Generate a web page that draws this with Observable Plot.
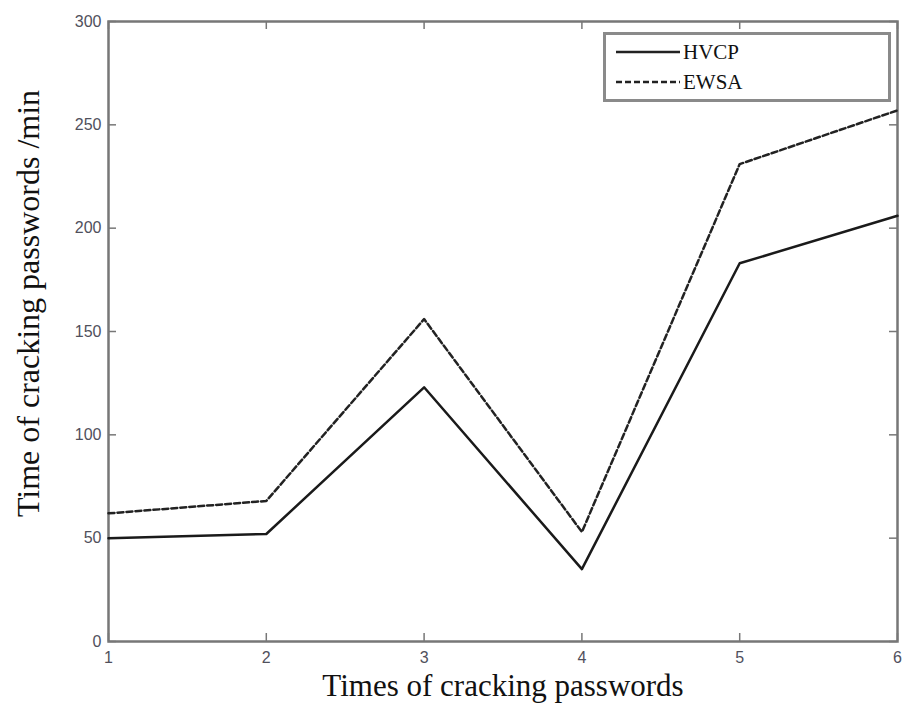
<!DOCTYPE html>
<html>
<head>
<meta charset="utf-8">
<script src="https://cdn.jsdelivr.net/npm/d3@7"></script>
<script src="https://cdn.jsdelivr.net/npm/@observablehq/plot@0.6"></script>
<style>
  html, body { margin: 0; padding: 0; background: #fff; }
  #wrap { position: relative; width: 906px; height: 716px; }
  #legend {
    position: absolute; left: 603px; top: 32px; width: 282px; height: 64px;
    border: 3px solid #8a8a8a; background: #fff;
    font-family: "Liberation Serif", "Times New Roman", serif; font-size: 21px; color: #111;
  }
  .row { position: absolute; left: 10px; height: 24px; display: flex; align-items: center; }
  .row svg { margin-right: 3px; }
</style>
</head>
<body>
<div id="wrap"></div>
<script>
const xTicks = [1, 2, 3, 4, 5, 6];
const yTicks = [0, 50, 100, 150, 200, 250, 300];
const hvcp = [50, 52, 123, 35, 183, 206];
const ewsa = [62, 68, 156, 53, 231, 257];
const seriesNames = ["HVCP", "EWSA"];
const xLabel = "Times of cracking passwords";
const yLabel = "Time of cracking passwords /min";

const data = [];
xTicks.forEach((x, i) => {
  data.push({x, y: hvcp[i], s: "HVCP"});
  data.push({x, y: ewsa[i], s: "EWSA"});
});

const W = 906, H = 716, ML = 108, MR = 9, MT = 21, MB = 75;
const innerW = W - ML - MR, innerH = H - MT - MB;
const tl = 8;
const tickFont = {fontSize: 16, fontFamily: "Liberation Sans, Arial, sans-serif", fill: "#50505c"};

const chart = Plot.plot({
  width: W, height: H,
  marginLeft: ML, marginRight: MR, marginTop: MT, marginBottom: MB,
  x: {domain: [1, 6]},
  y: {domain: [0, 300]},
  marks: [
    Plot.axisX(xTicks, {tickSize: 0, tickPadding: 10, tickFormat: "d", ...tickFont, label: null}),
    Plot.axisY(yTicks, {tickSize: 0, tickPadding: 7, tickFormat: "d", ...tickFont, label: null}),
    Plot.tickX(xTicks, {x: d => d, insetTop: innerH - tl, stroke: "#777", strokeWidth: 1.5}),
    Plot.tickX(xTicks, {x: d => d, insetBottom: innerH - tl, stroke: "#777", strokeWidth: 1.5}),
    Plot.tickY(yTicks, {y: d => d, insetRight: innerW - tl, stroke: "#777", strokeWidth: 1.5}),
    Plot.tickY(yTicks, {y: d => d, insetLeft: innerW - tl, stroke: "#777", strokeWidth: 1.5}),
    Plot.frame({stroke: "#777", strokeWidth: 2.5}),
    Plot.line(data.filter(d => d.s === "EWSA"), {x: "x", y: "y", stroke: "#222", strokeWidth: 2.5, strokeDasharray: "6,3"}),
    Plot.line(data.filter(d => d.s === "HVCP"), {x: "x", y: "y", stroke: "#1a1a1a", strokeWidth: 2.5}),
    Plot.text([xLabel], {text: d => d, frameAnchor: "bottom", textAnchor: "middle", dy: 54, fontSize: 31, fontFamily: "Liberation Serif, Times New Roman, serif", fill: "#111"}),
    Plot.text([yLabel], {text: d => d, frameAnchor: "left", textAnchor: "middle", dx: -80, dy: -28, rotate: -90, fontSize: 32, fontFamily: "Liberation Serif, Times New Roman, serif", fill: "#111"})
  ]
});

const wrap = document.getElementById("wrap");
wrap.appendChild(chart);

const legend = document.createElement("div");
legend.id = "legend";
seriesNames.forEach((name, i) => {
  const row = document.createElement("div");
  row.className = "row";
  row.style.top = (i === 0 ? 5 : 35) + "px";
  const dash = i === 0 ? "" : 'stroke-dasharray="6,3"';
  row.innerHTML = `<svg width="64" height="10"><line x1="0" y1="5" x2="64" y2="5" stroke="#222" stroke-width="2.5" ${dash}/></svg><span>${name}</span>`;
  legend.appendChild(row);
});
wrap.appendChild(legend);
</script>
</body>
</html>
